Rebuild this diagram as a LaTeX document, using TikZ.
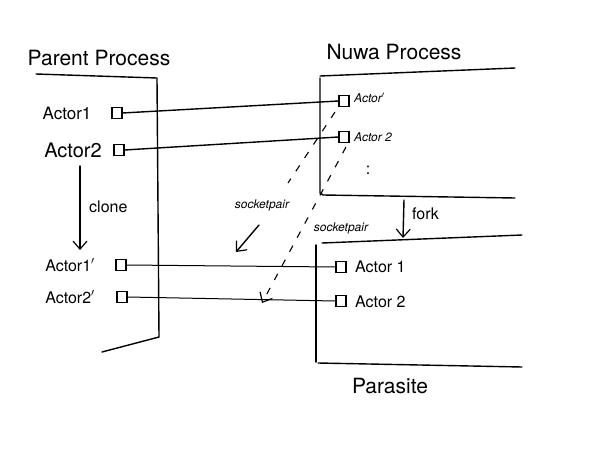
\documentclass[tikz,border=0pt]{standalone}
\usepackage{fontspec}
\setmainfont{TeX Gyre Heros}
\usetikzlibrary{arrows.meta}
\tikzset{
  pen/.style={line width=1.4pt, line cap=round, line join=round},
  thin pen/.style={line width=1pt, line cap=round},
  dpen/.style={line width=1.1pt, dash pattern=on 7pt off 9pt},
  tip/.style={-{Straight Barb[length=8pt,width=14pt,line width=1.2pt]}},
  title/.style={font=\fontsize{21}{24}\selectfont},
  lbl/.style={font=\fontsize{16}{18}\selectfont, inner sep=0pt},
  small/.style={font=\fontsize{12}{14}\selectfont\itshape, inner sep=0pt},
  abox/.style={draw, line width=1.1pt, minimum width=10pt, minimum height=11pt, inner sep=0pt},
}
\begin{document}
\begin{tikzpicture}[x=1pt,y=-1pt]
\useasboundingbox (0,0) rectangle (600,450);
% titles
\node[title] (parentT) at (99,58) {Parent Process};
\node[title] (nuwaT) at (394,52) {Nuwa Process};
\node[title] (parasiteT) at (390,386) {Parasite};
% parent box
\draw[pen] (36,74) -- (157,78) -- (159,337) -- (102,352);
% nuwa box
\draw[pen] (320,76) -- (515,68);
\draw[pen] (320,78) -- (320,193) -- (323,195) -- (515,198);
% parasite box
\draw[pen] (322,243) -- (522,235);
\draw[pen] (316,245) -- (316,362);
\draw[pen] (318,363) -- (522,367);
% parent actors
\node[lbl, font=\fontsize{17}{19}\selectfont] (p1) at (67,113) {Actor1};
\node[abox] (p1b) at (117,113) {};
\node[lbl, font=\fontsize{20}{22}\selectfont] (p2) at (73,150) {Actor2};
\node[abox] (p2b) at (119,150) {};
\node[lbl] (q1) at (70,265) {Actor1$'$};
\node[abox] (q1b) at (121,265) {};
\node[lbl] (q2) at (70,297) {Actor2$'$};
\node[abox] (q2b) at (122,297) {};
% nuwa actors
\node[abox] (n1b) at (344,101) {};
\node[small, anchor=west] (n1) at (354,98) {Actor$'$};
\node[abox] (n2b) at (344,137) {};
\node[small, anchor=west] (n2) at (354,137) {Actor 2};
\node[lbl] (dots) at (368,170) {:};
% parasite actors
\node[abox] (r1b) at (341,267) {};
\node[lbl, anchor=west] (r1) at (355,267) {Actor 1};
\node[abox] (r2b) at (341,301) {};
\node[lbl, anchor=west] (r2) at (355,302) {Actor 2};
% links
\draw[pen] (p1b.east) -- (n1b.west);
\draw[pen] (p2b.east) -- (n2b.west);
\draw[thin pen] (q1b.east) -- (r1b.west);
\draw[thin pen] (q2b.east) -- (r2b.west);
% clone
\coordinate (c1) at (80,166);
\coordinate (c2) at (80,250);
\draw[pen, tip] (c1) -- (c2);
\node[lbl, anchor=west] (cl) at (89,207) {clone};
% fork
\coordinate (f1) at (404,200);
\coordinate (f2) at (403,238);
\draw[pen, tip] (f1) -- (f2);
\node[lbl, anchor=west] (fk) at (412,214) {fork};
% socketpair 1
\node[small] (s1) at (262,205) {socketpair};
\coordinate (d1) at (335,112);
\coordinate (d1e) at (288,183);
\draw[dpen] (d1) -- (d1e);
\coordinate (a1s) at (259,225);
\coordinate (a1e) at (236,252);
\draw[pen, tip] (a1s) -- (a1e);
% socketpair 2
\node[small] (s2) at (341,228) {socketpair};
\coordinate (d2) at (346,147);
\coordinate (d2e) at (262,303);
\draw[dpen, tip, dash pattern=on 7pt off 9pt] (d2) -- (d2e);
\end{tikzpicture}
\end{document}
